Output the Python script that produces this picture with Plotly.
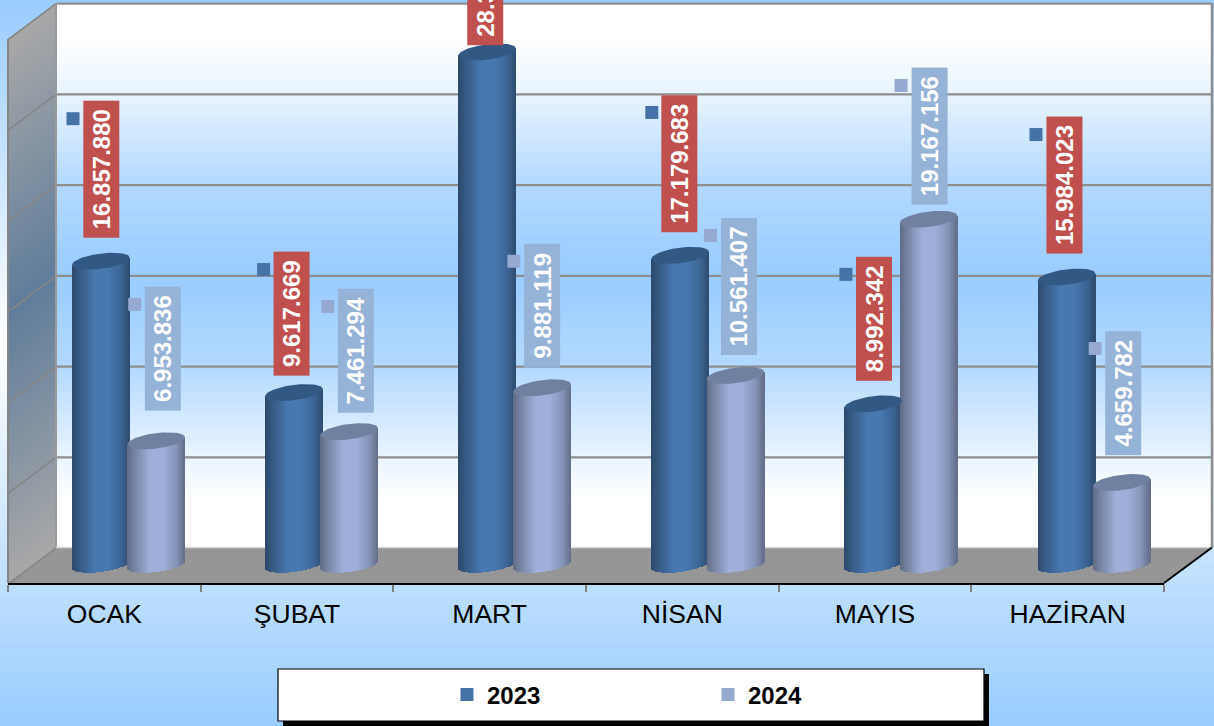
import numpy as np
import plotly.graph_objects as go

# ---------- data ----------
categories = ["OCAK", "ŞUBAT", "MART", "NİSAN", "MAYIS", "HAZİRAN"]
values_2023 = [16857880, 9617669, 28392000, 17179683, 8992342, 15984023]
values_2024 = [6953836, 7461294, 9881119, 10561407, 19167156, 4659782]

# label placement (pixels relative to the top of each cylinder)
label_gap_2023 = [23, 16.5, 7, 23.4, 23, 23]
label_gap_2024 = [30, 18.7, 20, 20.4, 14.3, 27.5]
label_dx_2023 = [0, -2.5, -1.5, -0.5, 0.5, -2.5]
label_dx_2024 = [6.5, 6.5, -0.5, 3, 0.5, 1.5]

# ---------- geometry ----------
W, H = 1214, 726
PL, PR, PT, PB = 8, 1164, 0, 583      # plot-area box in page pixels
X_STEP = (PR - PL) / 6
Y0_PX = 567                            # pixel of value 0 at the cylinders' depth
FOOT_PX = 564.3                        # centre of the cylinders' foot ellipse
PX_PER_UNIT = 90.7 / 5_000_000
DEPTH_X, DEPTH_Y = 48, 36


def xd(px):
    return (px - PL) / X_STEP


def yd(py):
    return (Y0_PX - py) / PX_PER_UNIT


def vpx(v):
    return Y0_PX - v * PX_PER_UNIT


def xp(px):
    return (px - PL) / (PR - PL)


def yp(py):
    return (PB - py) / (PB - PT)


CYL_W = 57.5
CYL_STEP = 193.1
CYL_C = {"2023": 101.0, "2024": 156.2}
TILT = 3.5
ELL_H = 7.7
N_STRIP = 29


def mix(c, f):
    return "rgb(%d,%d,%d)" % tuple(min(255, int(round(a * f))) for a in c)


def lerp(c1, c2, t):
    return tuple(a + (b - a) * t for a, b in zip(c1, c2))


def cssc(c):
    return "rgb(%d,%d,%d)" % tuple(int(round(a)) for a in c)


def series_traces(name, values, base_rgb, cap_rgb, key_rgb, label_bg, gaps, dxs):
    u = (np.arange(N_STRIP) + 0.5) / N_STRIP * 2 - 1
    shade_t = [0, 0.12, 0.4, 0.62, 0.85, 1]
    shade_f = [0.60, 0.74, 1.0, 1.0, 0.84, 0.62]
    xs, ys, bases, widths, colors = [], [], [], [], []
    caps = []
    keys_x, keys_y = [], []
    annos = []
    for i, v in enumerate(values):
        cx = CYL_C[name] + CYL_STEP * i
        yv = vpx(v)
        for uu in u:
            px = cx + uu * CYL_W / 2
            off = -TILT * uu
            top = yv + off
            bot = FOOT_PX + off + ELL_H * np.sqrt(1 - uu ** 2)
            xs.append(xd(px))
            ys.append(yd(top) - yd(bot))
            bases.append(yd(bot))
            widths.append(xd(CYL_W / N_STRIP * 1.25 + PL))
            colors.append(mix(base_rgb, float(np.interp((uu + 1) / 2, shade_t, shade_f))))
        th = np.linspace(0, 2 * np.pi, 61)
        cu = np.cos(th)
        cap_x = [xd(cx + a * CYL_W / 2) for a in cu]
        cap_y = [yd(yv - TILT * a + ELL_H * b) for a, b in zip(cu, np.sin(th))]
        caps.append(go.Scatter(x=cap_x, y=cap_y, mode="lines", fill="toself",
                               fillcolor=cssc(cap_rgb), line=dict(width=0, color=cssc(cap_rgb)),
                               showlegend=False, hoverinfo="skip"))
        text = f"{v:,}".replace(",", ".")
        box_len = 137 if len(text) >= 10 else 124
        bx = cx + dxs[i]
        annos.append(dict(x=xd(bx), y=v, xref="x", yref="y", yanchor="bottom", xanchor="center",
                          yshift=gaps[i], text=f"<b>{text}</b>", textangle=-90, showarrow=False,
                          width=box_len, height=36, bgcolor=label_bg, borderpad=0, borderwidth=0,
                          align="center", valign="middle",
                          font=dict(family="Liberation Sans", size=24, color="white")))
        keys_x.append(xd(bx - 28))
        keys_y.append(yd(yv - gaps[i] - box_len + 17.5))
    bar = go.Bar(x=xs, y=ys, base=bases, width=widths, marker=dict(color=colors, line=dict(width=0)),
                 showlegend=False, hoverinfo="skip")
    key = go.Scatter(x=keys_x, y=keys_y, mode="markers", name=name,
                     marker=dict(symbol="square", size=13, color=cssc(key_rgb)))
    return bar, caps, key, annos


b23, c23, k23, a23 = series_traces("2023", values_2023, (72, 120, 176), (50, 88, 132), (69, 115, 168),
                                   "#C0504D", label_gap_2023, label_dx_2023)
b24, c24, k24, a24 = series_traces("2024", values_2024, (158, 176, 218), (111, 128, 160), (149, 169, 209),
                                   "#95B3D7", label_gap_2024, label_dx_2024)

fig = go.Figure()
fig.add_trace(b23)
fig.add_trace(b24)
for t in c23 + c24:
    fig.add_trace(t)
fig.add_trace(k23)
fig.add_trace(k24)

# ---------- decorative shapes ----------
shapes = []


def rect(x0, y0, x1, y1, fill, line=None, lw=0):
    shapes.append(dict(type="rect", xref="paper", yref="paper", layer="below",
                       x0=xp(x0), x1=xp(x1), y0=yp(y0), y1=yp(y1), fillcolor=fill,
                       line=dict(width=lw, color=line or fill)))


def poly(pts, fill=None, line=None, lw=0):
    path = "M " + " L ".join(f"{xp(a):.5f},{yp(b):.5f}" for a, b in pts)
    if fill:
        path += " Z"
    shapes.append(dict(type="path", xref="paper", yref="paper", layer="below", path=path,
                       fillcolor=fill or "rgba(0,0,0,0)", line=dict(width=lw, color=line or "rgba(0,0,0,0)")))


# page background gradient
WHITE = (255, 255, 255)
BLUE = (153, 204, 255)
bands = 90
for k in range(bands):
    y0 = H * k / bands
    y1 = H * (k + 1) / bands + 1
    mid = (y0 + y1) / 2
    t = abs(mid - 345) / (345 if mid < 345 else (H - 345))
    rect(0, y0, W, y1, cssc(lerp(WHITE, BLUE, t)))

BX0, BX1 = PL + DEPTH_X, PR + DEPTH_X
BY_TOP, BY_BOT = 3, 547.5
# back wall gradient
stops_y = [3, 40, 100, 185, 276, 367, 450, 500, 547]
stops_t = [0, 0, 0.25, 0.75, 1, 0.75, 0.25, 0, 0]
for k in range(91):
    y0 = BY_TOP + (BY_BOT - BY_TOP) * k / 91
    y1 = BY_TOP + (BY_BOT - BY_TOP) * (k + 1) / 91 + 1
    rect(BX0, y0, BX1, min(y1, BY_BOT), cssc(lerp(WHITE, BLUE, float(np.interp((y0 + y1) / 2, stops_y, stops_t)))))

# left wall gradient
GRAY = (168, 168, 168)
DK = (95, 125, 155)
for k in range(60):
    a = k / 60
    b = (k + 1) / 60 + 0.004
    ya_b = BY_TOP + (BY_BOT - BY_TOP) * a
    yb_b = BY_TOP + (BY_BOT - BY_TOP) * min(b, 1)
    col = cssc(lerp(GRAY, DK, 1 - abs((a + 1 / 120) * 2 - 1)))
    poly([(PL, ya_b + DEPTH_Y), (BX0, ya_b), (BX0, yb_b), (PL, yb_b + DEPTH_Y)], fill=col)

# floor
poly([(PL, PB), (BX0, BY_BOT), (BX1, BY_BOT), (PR, PB)], fill="#969696")

# grid lines (every 5 million on the back wall)
GL = "#8E8E8E"
for k in range(0, 7):
    y = 548.2 - 90.75 * k
    if k:
        poly([(BX0, y), (BX1, y)], line=GL, lw=2.2)
    poly([(PL, y + DEPTH_Y), (BX0, y)], line="#858585", lw=1.6)
poly([(BX0, BY_TOP), (BX0, BY_BOT)], line="#9A9A9A", lw=2)
poly([(PL, BY_TOP + DEPTH_Y), (PL, PB)], line="#858585", lw=2)
poly([(BX1, BY_TOP), (BX1, BY_BOT)], line=GL, lw=2.5)
poly([(BX0, BY_BOT), (BX1, BY_BOT)], line="#D8D8D8", lw=1.5)
poly([(PR, PB), (BX1, BY_BOT)], line="black", lw=2)

# legend box + shadow
rect(283, 674, 989, 726, "black")
rect(278, 669, 984, 721, "white", line="black", lw=1.2)

fig.update_layout(
    width=W, height=H,
    margin=dict(l=PL, r=W - PR, t=PT, b=H - PB, pad=0),
    paper_bgcolor="#CFE6FF", plot_bgcolor="rgba(0,0,0,0)",
    barmode="overlay", bargap=0,
    shapes=shapes,
    annotations=a23 + a24,
    showlegend=True,
    hovermode=False,
    font=dict(family="Liberation Sans", color="black"),
    legend=dict(orientation="h", x=xp(455), xanchor="left", y=yp(695), yanchor="middle",
                entrywidth=224, entrywidthmode="pixels", bgcolor="rgba(0,0,0,0)", borderwidth=0,
                indentation=-8, font=dict(family="Liberation Sans", size=24, color="black", weight="bold")),
    xaxis=dict(range=[0, 6], tickmode="array", tickvals=[i + 0.5 for i in range(6)], ticktext=categories,
               showgrid=False, zeroline=False, showline=True, linecolor="black", linewidth=2,
               ticks="outside", ticklen=6, tickcolor="rgba(0,0,0,0)", tickfont=dict(size=26.5, color="black"),
               minor=dict(tickmode="array", tickvals=list(range(7)), ticks="outside", ticklen=7,
                          tickcolor="#808080", tickwidth=1.5, showgrid=False)),
    yaxis=dict(range=[yd(PB), yd(PT)], visible=False, showgrid=False, zeroline=False),
)

fig.write_html("out.html", config={"displayModeBar": False},
               post_script="document.body.style.margin='0';document.body.style.overflow='hidden';")
